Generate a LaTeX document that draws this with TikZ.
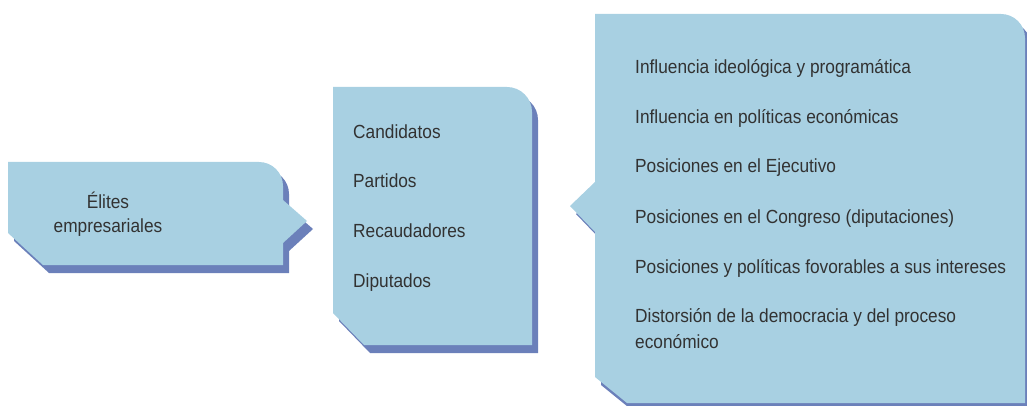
\documentclass[tikz,border=0pt]{standalone}
\usepackage{fontspec}
\setmainfont{Liberation Sans}[FakeStretch=0.91]
\definecolor{boxfill}{RGB}{168,208,226}
\definecolor{boxshadow}{RGB}{107,128,186}
\definecolor{txt}{RGB}{50,50,50}
\tikzset{
  lbl/.style={anchor=base west, inner sep=0pt, text=txt, font=\fontsize{19}{26}\selectfont},
  clbl/.style={anchor=base, inner sep=0pt, text=txt, font=\fontsize{19}{26}\selectfont},
  shapefill/.style={fill=boxfill},
  shapeshadow/.style={fill=boxshadow},
}
\begin{document}
\begin{tikzpicture}[x=1pt,y=-1pt]
\useasboundingbox (0,0) rectangle (1027,406);
% shape 1
\def\shapeone{(8,162) [rounded corners=24pt] -- (283,162) [sharp corners] -- (283,200) -- (307,221) -- (283,243) -- (283,265) -- (43,265) -- (8,233) -- cycle}
\fill[shapeshadow, shift={(6,8)}] \shapeone;
\fill[shapefill] \shapeone;
% shape 2
\def\shapetwo{(333,87) [rounded corners=25pt] -- (532,87) [sharp corners] -- (532,345) -- (364,345) -- (333,313) -- cycle}
\fill[shapeshadow, shift={(6,8)}] \shapetwo;
\fill[shapefill] \shapetwo;
% shape 3
\def\shapethree{(595,14) [rounded corners=24pt] -- (1025,14) [sharp corners] -- (1025,403) -- (627,403) -- (595,377) -- (595,232) -- (570,206) -- (595,182) -- cycle}
\fill[shapeshadow, shift={(6,8)}] \shapethree;
\fill[shapefill] \shapethree;
% texts
\node[clbl] (e1) at (108,208) {Élites};
\node[clbl] (e2) at (108,232) {empresariales};
\node[lbl] (c1) at (353,139) {Candidatos};
\node[lbl] (c2) at (353,188) {Partidos};
\node[lbl] (c3) at (353,237) {Recaudadores};
\node[lbl] (c4) at (353,287) {Diputados};
\node[lbl] (r1) at (635,74) {Influencia ideológica y programática};
\node[lbl] (r2) at (635,124) {Influencia en políticas económicas};
\node[lbl] (r3) at (635,173) {Posiciones en el Ejecutivo};
\node[lbl] (r4) at (635,223) {Posiciones en el Congreso (diputaciones)};
\node[lbl] (r5) at (635,273) {Posiciones y políticas fovorables a sus intereses};
\node[lbl] (r6) at (635,322) {Distorsión de la democracia y del proceso};
\node[lbl] (r7) at (635,348) {económico};
\end{tikzpicture}
\end{document}
